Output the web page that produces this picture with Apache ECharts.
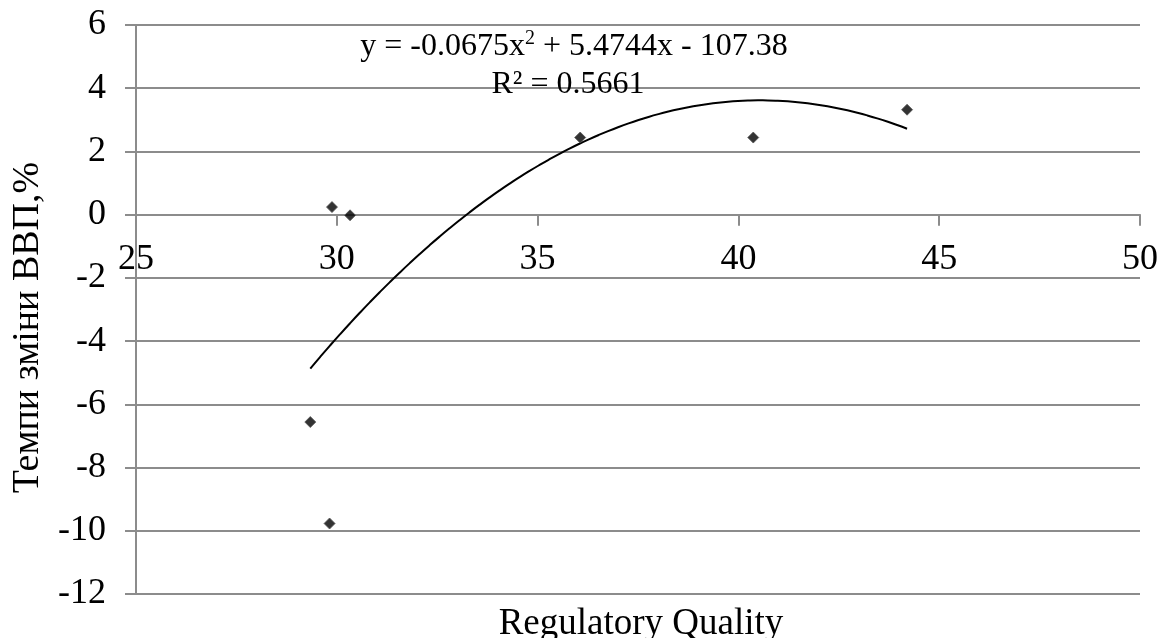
<!DOCTYPE html>
<html>
<head>
<meta charset="utf-8">
<script src="https://cdn.jsdelivr.net/npm/echarts@6/dist/echarts.min.js"></script>
<style>
  html, body { margin: 0; padding: 0; background: #fff; }
  #chart { width: 1161px; height: 638px; }
</style>
</head>
<body>
<div id="chart"></div>
<script>
// scatter points (Regulatory Quality, GDP growth %)
const xValues = [29.34, 29.82, 29.88, 30.33, 36.06, 40.37, 44.2]
const yValues = [-6.56, -9.77, 0.24, -0.02, 2.44, 2.44, 3.32]
// polynomial trendline coefficients as printed on the chart: a*x^2 + b*x + c
const trendCoef = [-0.0675, 5.4744, -107.38]
const xTicks = [25, 30, 35, 40, 45, 50]
const yTicks = [-12, -10, -8, -6, -4, -2, 0, 2, 4, 6]

const font = '"Liberation Serif", "Times New Roman", serif'
const gray = '#8c8c8c'
const gridTop = 25, gridBottom = 44
const plotH = 638 - gridTop - gridBottom

const points = xValues.map((x, i) => [x, yValues[i]])
const xMin = Math.min(...xValues)
const xMax = Math.max(...xValues)
const trend = []
for (let i = 0; i <= 60; i++) {
  const x = xMin + (xMax - xMin) * i / 60
  trend.push([x, trendCoef[0] * x * x + trendCoef[1] * x + trendCoef[2]])
}

const yMin = yTicks[0], yMax = yTicks[yTicks.length - 1]
// put the x axis (with its labels) on the y = 0 line
const xOffset = -plotH * (0 - yMin) / (yMax - yMin)

const mychart = echarts.init(document.getElementById('chart'))
mychart.setOption({
  animation: false,
  grid: { left: 136, right: 18, top: gridTop, bottom: gridBottom },
  title: [{
    text: '{a|y = -0.0675x}{s|2}{a| + 5.4744x - 107.38}',
    left: 569, top: 24, textAlign: 'center',
    textStyle: {
      rich: {
        a: { fontFamily: font, fontSize: 32, fontWeight: 'normal', color: '#000', lineHeight: 36 },
        s: { fontFamily: font, fontSize: 20, fontWeight: 'normal', color: '#000', verticalAlign: 'top', lineHeight: 20 }
      }
    }
  }, {
    text: 'R² = 0.5661',
    left: 563, top: 64, textAlign: 'center',
    textStyle: { fontFamily: font, fontSize: 32, fontWeight: 'normal', color: '#000' }
  }, {
    text: 'Regulatory Quality',
    left: 636, top: 601, textAlign: 'center',
    textStyle: { fontFamily: font, fontSize: 37, fontWeight: 'normal', color: '#000' }
  }],
  xAxis: {
    type: 'value',
    min: xTicks[0], max: xTicks[xTicks.length - 1], interval: 5,
    offset: xOffset,
    axisLine: { onZero: false, lineStyle: { color: gray, width: 2 } },
    axisTick: { show: true, length: 11, lineStyle: { color: gray, width: 2 } },
    axisLabel: { margin: 27, fontFamily: font, fontSize: 36, color: '#000', showMinLabel: true, showMaxLabel: true },
    splitLine: { show: false }
  },
  yAxis: {
    type: 'value',
    min: yMin, max: yMax, interval: 2,
    name: 'Темпи зміни ВВП,%',
    nameLocation: 'middle',
    nameGap: 88,
    nameTextStyle: { fontFamily: font, fontSize: 38, color: '#000', padding: [0, 36, 0, 0] },
    axisLine: { show: true, onZero: false, lineStyle: { color: gray, width: 2 } },
    axisTick: { show: true, length: 11, lineStyle: { color: gray, width: 2 } },
    axisLabel: { margin: 30, fontFamily: font, fontSize: 36, color: '#000' },
    splitLine: { show: true, lineStyle: { color: gray, width: 2 } }
  },
  series: [{
    type: 'line',
    data: trend,
    showSymbol: false,
    smooth: true,
    lineStyle: { color: '#000', width: 2 },
    z: 3
  }, {
    type: 'scatter',
    data: points,
    symbol: 'diamond',
    symbolSize: 11,
    itemStyle: { color: '#000', borderColor: '#555', borderWidth: 1 },
    z: 4
  }]
})
</script>
</body>
</html>
